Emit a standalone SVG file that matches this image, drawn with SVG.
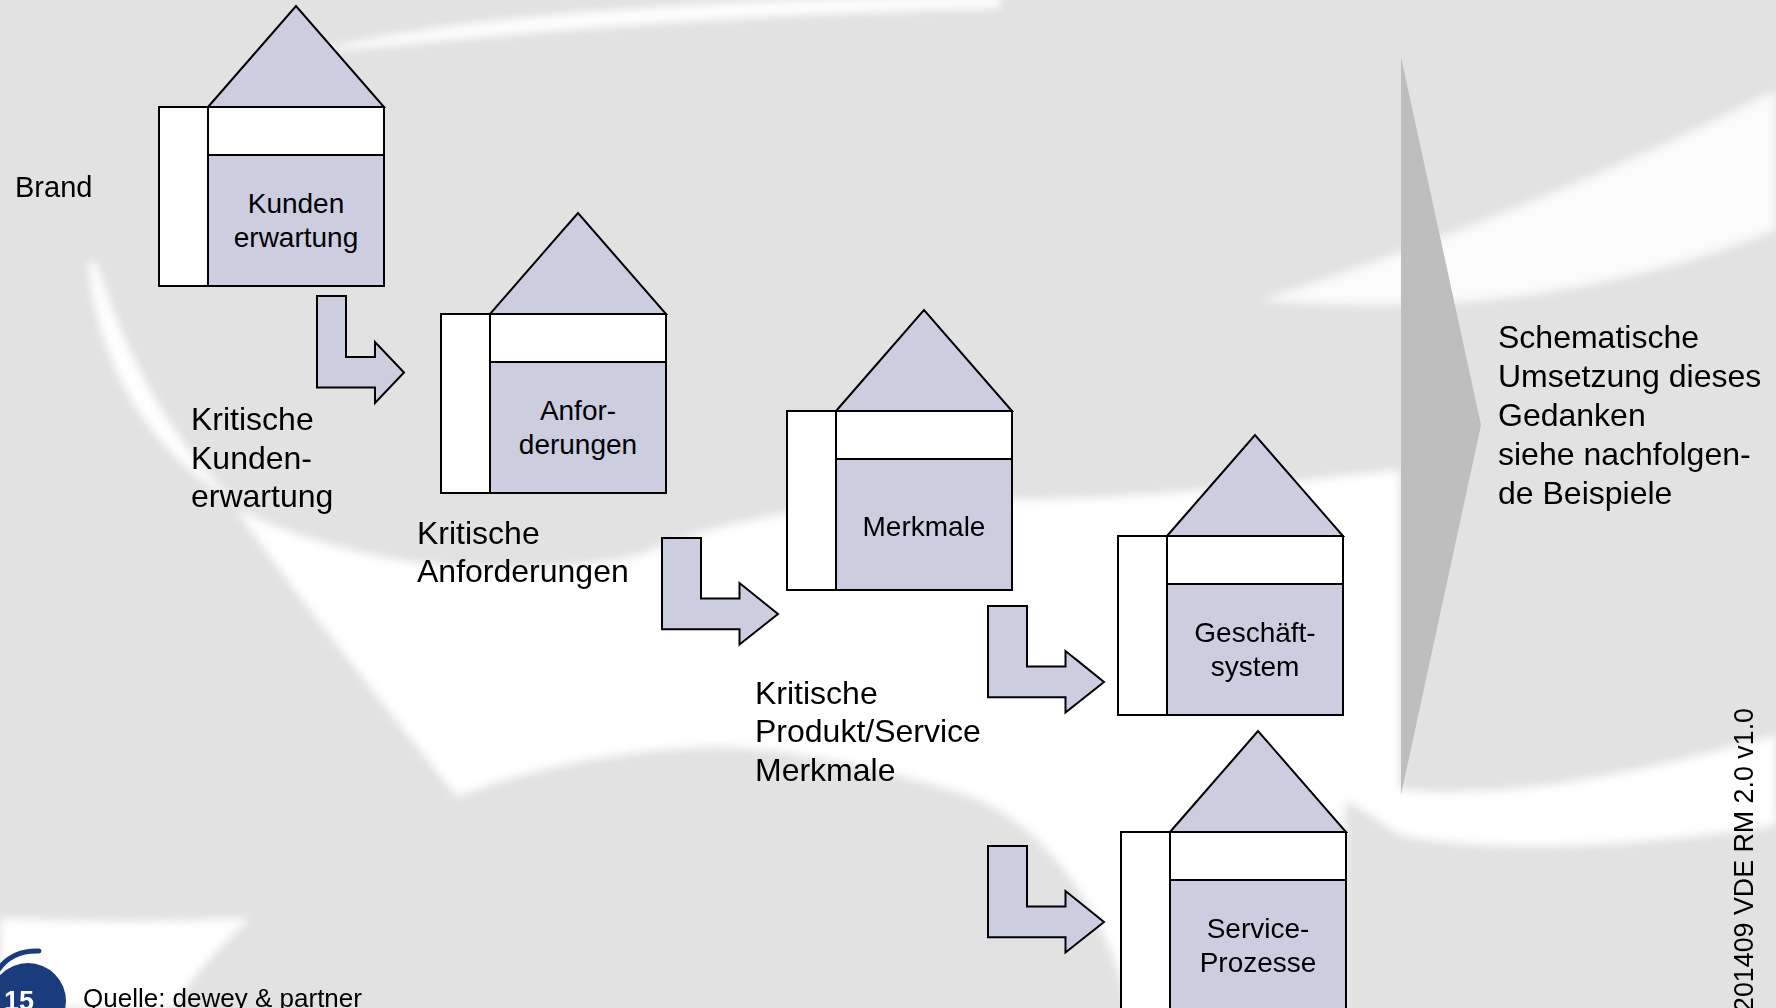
<svg xmlns="http://www.w3.org/2000/svg" width="1776" height="1008" viewBox="0 0 1776 1008">
<defs>
<style>
.bg{fill:#e2e2e2}
.sw{fill:#ffffff}
.col{fill:#ffffff;stroke:#000;stroke-width:2}
.band{fill:#ffffff;stroke:#000;stroke-width:2}
.body{fill:#cdcde0;stroke:#000;stroke-width:2}
.roof{fill:#cdcde0;stroke:#000;stroke-width:2;stroke-linejoin:miter}
.arr{fill:#cdcde0;stroke:#000;stroke-width:2;stroke-linejoin:miter}
.bl{font-family:"Liberation Sans",Arial,sans-serif;font-size:28px;fill:#000;text-anchor:middle}
.lb{font-family:"Liberation Sans",Arial,sans-serif;font-size:32px;fill:#000}
</style>
<filter id="soft" x="-10%" y="-10%" width="120%" height="120%">
<feGaussianBlur stdDeviation="5"/>
</filter>
<g id="houseShape">
<polygon class="roof" points="49,0 137,-101 225,0"/>
<rect class="col" x="0" y="0" width="49" height="179"/>
<rect class="band" x="49" y="0" width="176" height="48"/>
<rect class="body" x="49" y="48" width="176" height="131"/>
</g>
<polygon id="arrowWide" class="arr" points="0,0 39,0 39,60.5 77.5,60.5 77.5,45 116,76 77.5,106.5 77.5,91.3 0,91.3"/>
</defs>

<g id="background">
<rect class="bg" x="0" y="0" width="1776" height="1008"/>
<g filter="url(#soft)">
<path class="sw" d="M300,55 C450,15 700,0 1000,-5 L1000,8 C700,15 480,35 300,55 Z"/>
<path class="sw" d="M88,262 C100,380 160,460 240,505 C200,470 140,400 96,262 Z"/>
<path class="sw" d="M235,508 C350,565 500,585 640,555 C720,520 820,500 1000,500 C1150,500 1300,480 1400,470 L1400,790 C1520,800 1650,770 1776,735 L1776,825 C1650,845 1500,855 1400,835 C1375,818 1355,805 1345,800 L1345,1008 L1127,1008 C1115,930 1050,820 960,793 C860,762 760,745 706,747 C600,752 520,772 457,797 C380,700 300,600 235,508 Z"/>
<path class="sw" opacity="0.85" d="M1260,300 C1420,250 1620,170 1776,90 L1776,230 C1650,280 1480,320 1260,300 Z"/>
<path class="sw" d="M0,918 C80,922 170,922 250,918 C215,950 190,980 173,1008 L0,1008 Z"/>
</g>
</g>

<g id="big-arrow">
<polygon id="big-triangle" points="1401,57 1481,425 1401,795" fill="#bebebe"/>
</g>

<g id="connectors">
<polygon id="arrow-1" class="arr" points="317,296 346,296 346,357 375,357 375,342 404,372.5 375,403 375,387.5 317,387.5"/>
<use id="arrow-2" href="#arrowWide" x="662" y="538"/>
<use id="arrow-3" href="#arrowWide" x="988" y="606"/>
<use id="arrow-4" href="#arrowWide" x="988" y="846"/>
</g>

<g id="node-kundenerwartung">
<use href="#houseShape" x="159" y="107"/>
<text class="bl" x="296" y="213">Kunden</text>
<text class="bl" x="296" y="247">erwartung</text>
</g>
<g id="node-anforderungen">
<use href="#houseShape" x="441" y="314"/>
<text class="bl" x="578" y="420">Anfor-</text>
<text class="bl" x="578" y="454">derungen</text>
</g>
<g id="node-merkmale">
<use href="#houseShape" x="787" y="411"/>
<text class="bl" x="924" y="535.5">Merkmale</text>
</g>
<g id="node-geschaeftsystem">
<use href="#houseShape" x="1118" y="536"/>
<text class="bl" x="1255" y="642">Geschäft-</text>
<text class="bl" x="1255" y="676">system</text>
</g>
<g id="node-serviceprozesse">
<use href="#houseShape" x="1121" y="832"/>
<text class="bl" x="1258" y="938">Service-</text>
<text class="bl" x="1258" y="972">Prozesse</text>
</g>

<g id="labels">
<text class="lb" x="15" y="197" style="font-size:29px">Brand</text>
<text class="lb" x="191" y="430">Kritische</text>
<text class="lb" x="191" y="468.5">Kunden-</text>
<text class="lb" x="191" y="507">erwartung</text>
<text class="lb" x="417" y="543.5">Kritische</text>
<text class="lb" x="417" y="582">Anforderungen</text>
<text class="lb" x="755" y="703.5">Kritische</text>
<text class="lb" x="755" y="742">Produkt/Service</text>
<text class="lb" x="755" y="780.5">Merkmale</text>
<text class="lb" x="1498" y="348">Schematische</text>
<text class="lb" x="1498" y="387">Umsetzung dieses</text>
<text class="lb" x="1498" y="426">Gedanken</text>
<text class="lb" x="1498" y="465">siehe nachfolgen-</text>
<text class="lb" x="1498" y="504">de Beispiele</text>
</g>

<g id="footer">
<circle cx="28" cy="1001" r="38" fill="#1b3c7c"/>
<path d="M-2,970 Q12,950 39,951" fill="none" stroke="#1b3c7c" stroke-width="5" stroke-linecap="round"/>
<text x="4" y="1010" style="font-family:'Liberation Sans',Arial,sans-serif;font-size:27px;font-weight:bold;fill:#fff">15</text>
<text x="83" y="1007" style="font-family:'Liberation Sans',Arial,sans-serif;font-size:26px;fill:#000">Quelle: dewey &amp; partner</text>
<text transform="translate(1753,708) rotate(-90)" textLength="304" lengthAdjust="spacingAndGlyphs" style="font-family:'Liberation Sans',Arial,sans-serif;font-size:28px;fill:#000;text-anchor:end">201409 VDE  RM 2.0 v1.0</text>
</g>
</svg>
